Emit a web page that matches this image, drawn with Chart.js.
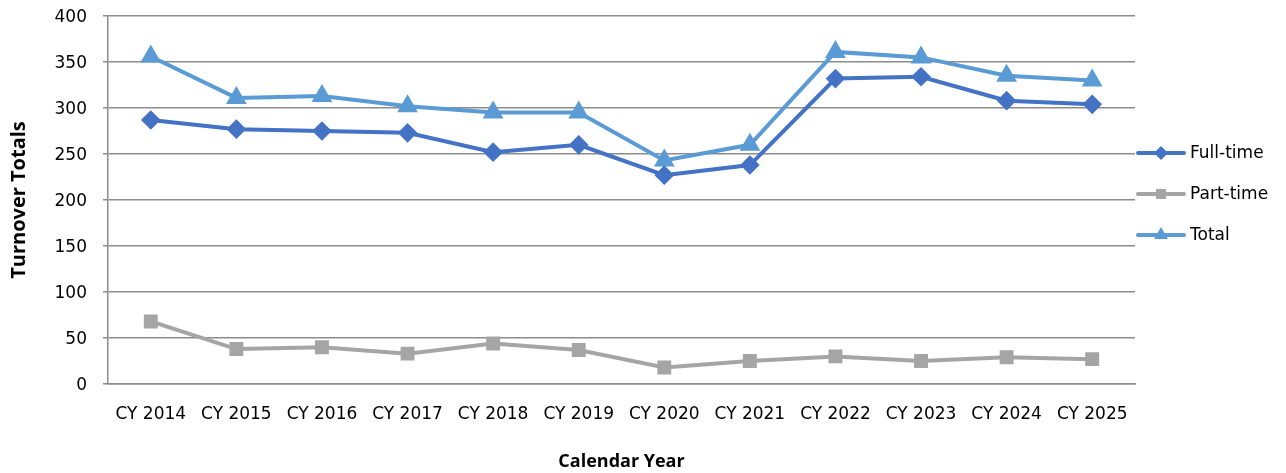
<!DOCTYPE html>
<html>
<head>
<meta charset="utf-8">
<script src="https://cdn.jsdelivr.net/npm/chart.js@4"></script>
<style>
  html, body { margin: 0; padding: 0; background: #fff; }
  #wrap { width: 1286px; height: 473px; }
</style>
</head>
<body>
<div id="wrap"><canvas id="turnoverChart"></canvas></div>
<script>
// values
var years = ["CY 2014", "CY 2015", "CY 2016", "CY 2017", "CY 2018", "CY 2019",
             "CY 2020", "CY 2021", "CY 2022", "CY 2023", "CY 2024", "CY 2025"];
var fullTime = [287, 277, 275, 273, 252, 260, 227, 238, 332, 334, 308, 304];
var partTime = [68, 38, 40, 33, 44, 37, 18, 25, 30, 25, 29, 27];
var total    = [356, 311, 313, 302, 295, 295, 243, 260, 361, 355, 335, 330];
var yTicks   = [0, 50, 100, 150, 200, 250, 300, 350, 400];

var tickFont = "'DejaVu Sans', sans-serif";
var titleFont = "'Open Sans', sans-serif";

// legend on the right: a short line with the marker on it, then the name
var sideLegend = {
    id: 'sideLegend',
    afterDraw(chart) {
        var ctx = chart.ctx;
        var sets = chart.data.datasets;
        var midY = (chart.chartArea.top + chart.chartArea.bottom) / 2;
        var gap = 41;
        ctx.save();
        for (let i = 0; i < sets.length; i++) {
            var ds = sets[i];
            var y = midY + (i - 1) * gap - 6;
            var x0 = 1138, x1 = 1184;
            ctx.strokeStyle = ds.borderColor;
            ctx.lineWidth = 4;
            ctx.lineCap = 'round';
            ctx.beginPath();
            ctx.moveTo(x0, y);
            ctx.lineTo(x1, y);
            ctx.stroke();
            ctx.fillStyle = ds.borderColor;
            Chart.helpers.drawPoint(ctx, {
                pointStyle: ds.pointStyle,
                radius: ds.pointRadius,
                rotation: 0,
                borderWidth: 0
            }, (x0 + x1) / 2, y);
            ctx.fillStyle = '#000';
            ctx.font = "17px " + tickFont;
            ctx.textBaseline = 'middle';
            ctx.textAlign = 'left';
            ctx.fillText(ds.label, 1190, y + 1);
        }
        ctx.restore();
    }
};

function series(label, data, color, style, r) {
    return {
        label: label,
        data: data,
        borderColor: color,
        backgroundColor: color,
        pointBackgroundColor: color,
        pointBorderColor: color,
        borderWidth: 4,
        pointStyle: style,
        pointRadius: r,
        pointHoverRadius: r,
        tension: 0
    };
}

new Chart(document.getElementById('turnoverChart'), {
    type: 'line',
    data: {
        labels: years,
        datasets: [
            series("Full-time", fullTime, "#4472C4", "rectRot", 7),
            series("Part-time", partTime, "#A5A5A5", "rect", 7),
            series("Total", total, "#5B9BD5", "triangle", 8)
        ]
    },
    plugins: [sideLegend],
    options: {
        responsive: true,
        maintainAspectRatio: false,
        animation: false,
        layout: { padding: { left: 0, right: 151, top: 16, bottom: 0 } },
        plugins: {
            legend: { display: false },
            tooltip: { enabled: false }
        },
        scales: {
            x: {
                offset: true,
                grid: { display: false, drawTicks: false },
                border: { display: true, color: '#8c8c8c', width: 1.5 },
                ticks: {
                    color: '#000',
                    padding: 20,
                    maxRotation: 0,
                    font: { family: tickFont, size: 17 }
                },
                title: {
                    display: true,
                    text: 'Calendar Year',
                    color: '#000',
                    padding: { top: 10, bottom: 0 },
                    font: { family: titleFont, size: 18, weight: 'bold' }
                },
                afterFit(scale) {
                    scale.height = 89;
                    scale.paddingLeft = 0;
                    scale.paddingRight = 0;
                }
            },
            y: {
                min: 0,
                max: 400,
                afterBuildTicks(scale) { scale.ticks = yTicks.map(v => ({ value: v })); },
                grid: {
                    color: '#8c8c8c',
                    lineWidth: 1.5,
                    drawTicks: true,
                    tickLength: 5
                },
                border: { display: true, color: '#8c8c8c', width: 1.5 },
                ticks: {
                    color: '#000',
                    padding: 16,
                    labelOffset: 1.5,
                    font: { family: tickFont, size: 17 }
                },
                title: {
                    display: true,
                    text: 'Turnover Totals',
                    color: '#000',
                    padding: { top: 7, bottom: 0 },
                    font: { family: titleFont, size: 20, weight: 'bold' }
                },
                afterFit(scale) {
                    scale.width = 108;
                    scale.paddingTop = 0;
                    scale.paddingBottom = 0;
                }
            }
        }
    }
});
</script>
</body>
</html>
